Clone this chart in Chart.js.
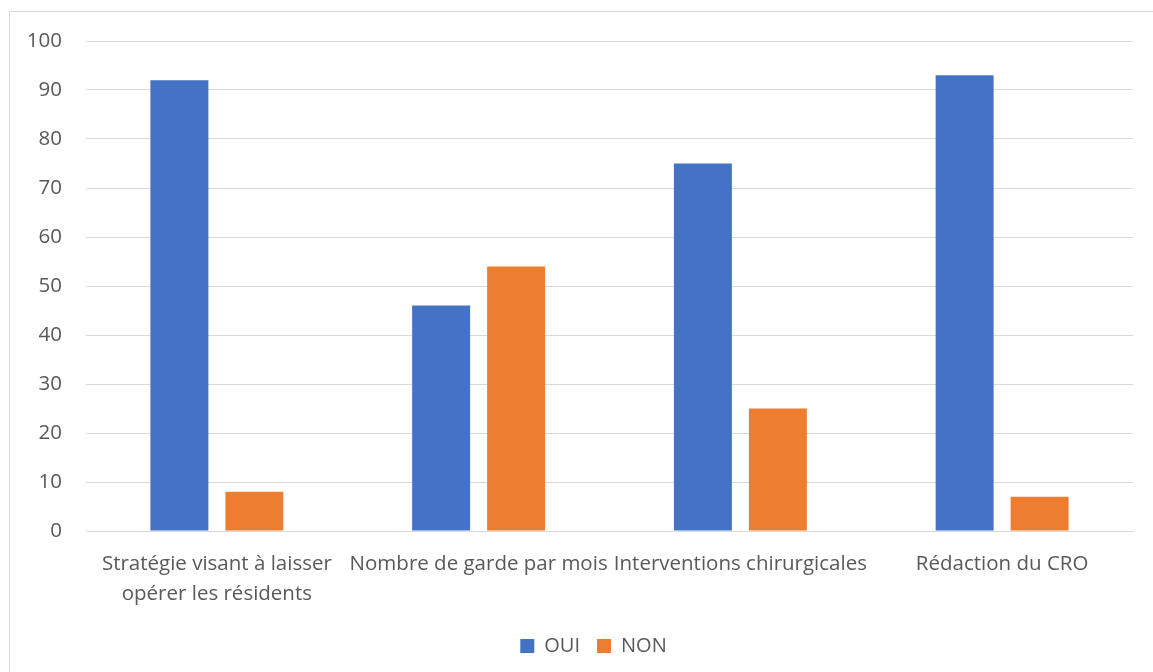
<!DOCTYPE html>
<html>
<head>
<meta charset="utf-8">
<script src="https://cdn.jsdelivr.net/npm/chart.js@4"></script>
<style>
html,body{margin:0;padding:0;background:#fff;overflow:hidden;}
#frame{position:absolute;left:9px;top:11px;width:1160px;height:680px;border:1px solid #d9d9d9;box-sizing:border-box;}
#wrap{position:absolute;left:0;top:0;width:1153px;height:672px;}
</style>
</head>
<body>
<div id="frame"></div>
<div id="wrap"><canvas id="c"></canvas></div>
<script>
const categories = [["Stratégie visant à laisser","opérer les résidents"],"Nombre de garde par mois","Interventions chirurgicales","Rédaction du CRO"];
const oui = [92, 46, 75, 93];
const non = [8, 54, 25, 7];
const seriesNames = ["OUI", "NON"];
const yTicks = {min: 0, max: 100, step: 10};

const FONT = "'Open Sans', sans-serif";
Chart.defaults.font.family = FONT;
Chart.defaults.color = '#595959';

// shift the bottom legend so it is centred like the original frame
const legendShift = {
  id: 'legendShift',
  afterLayout(chart) {
    const d = 27;
    chart.legend.left += d;
    chart.legend.right += d;
  }
};

new Chart(document.getElementById('c'), {
  type: 'bar',
  data: {
    labels: categories,
    datasets: [
      {label: seriesNames[0], data: oui, backgroundColor: '#4472C4', categoryPercentage: 0.573, barPercentage: 0.773},
      {label: seriesNames[1], data: non, backgroundColor: '#ED7D31', categoryPercentage: 0.573, barPercentage: 0.773}
    ]
  },
  plugins: [legendShift],
  options: {
    responsive: true,
    maintainAspectRatio: false,
    animation: false,
    layout: {padding: {left: 0, right: 20, top: 41, bottom: 6}},
    plugins: {
      legend: {
        position: 'bottom',
        labels: {boxWidth: 14, boxHeight: 14, padding: 17, font: {size: 20}, color: '#595959'}
      },
      tooltip: {enabled: false}
    },
    scales: {
      x: {
        grid: {display: false, drawTicks: false},
        border: {display: true, color: '#d9d9d9'},
        ticks: {font: {size: 20.5, lineHeight: 1.46}, color: '#595959', padding: 18, maxRotation: 0, autoSkip: false},
        afterFit: (s) => { s.height = 88; }
      },
      y: {
        min: yTicks.min, max: yTicks.max,
        grid: {color: '#d9d9d9', drawTicks: false},
        border: {display: false},
        ticks: {stepSize: yTicks.step, font: {size: 20.5}, color: '#595959', padding: 24},
        afterFit: (s) => { s.width = 86; }
      }
    }
  }
});
</script>
</body>
</html>
